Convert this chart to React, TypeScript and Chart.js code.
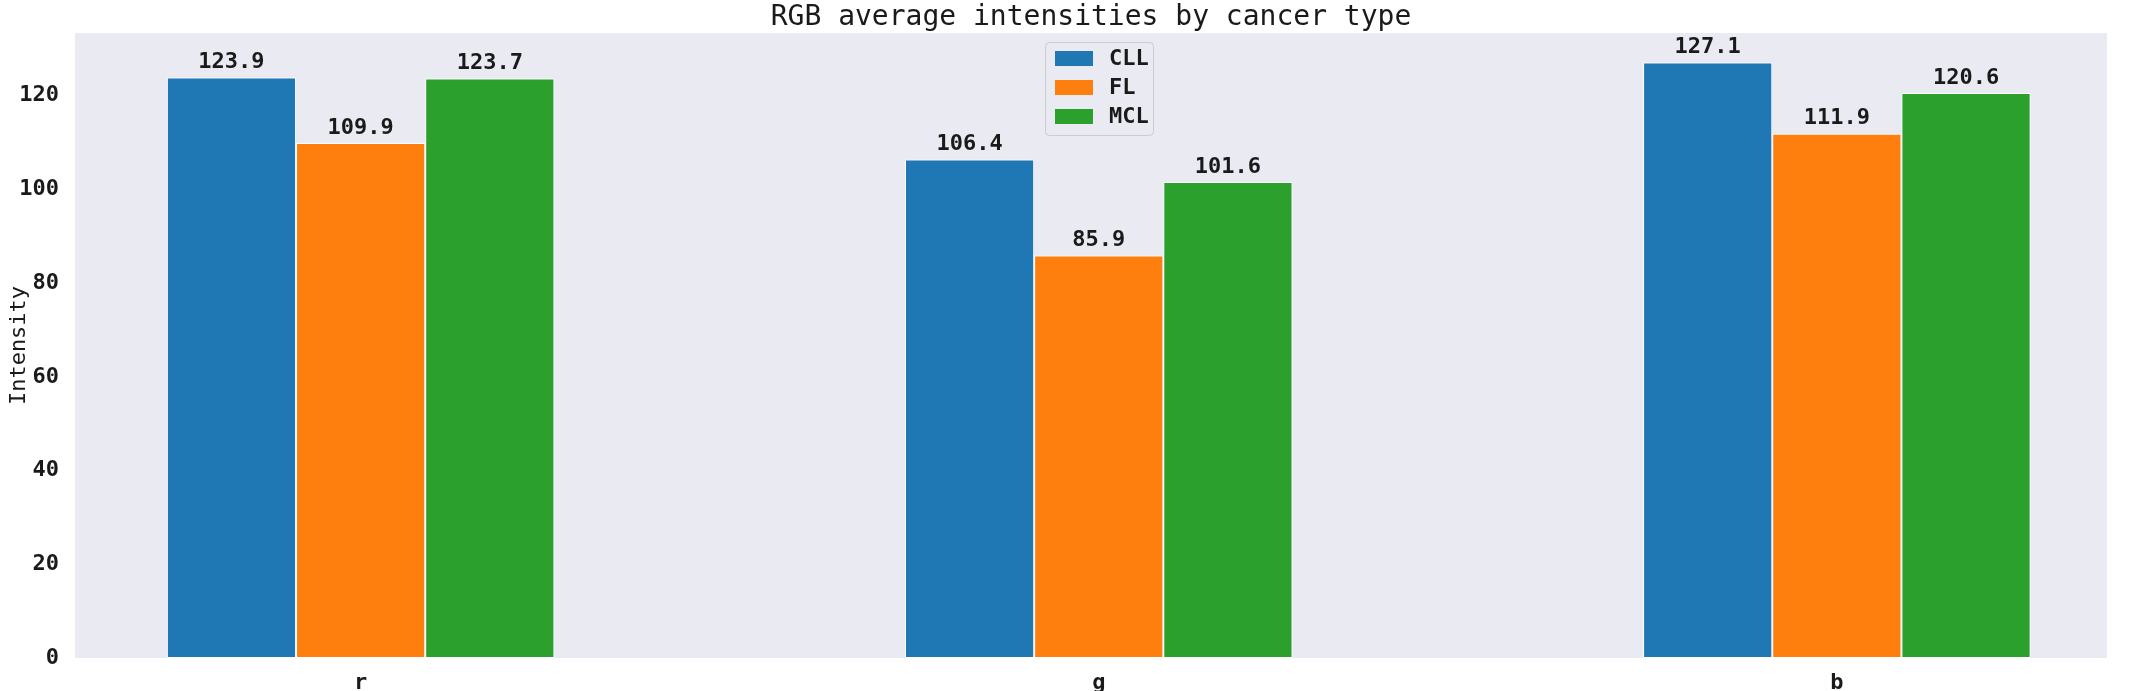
import { useEffect, useRef } from 'react'
import { Chart, registerables } from 'chart.js'

Chart.register(...registerables)

const categories = ['r', 'g', 'b']
const seriesNames = ['CLL', 'FL', 'MCL']
const cllValues = [123.9, 106.4, 127.1]
const flValues = [109.9, 85.9, 111.9]
const mclValues = [123.7, 101.6, 120.6]
const seriesColors = ['#1f77b4', '#ff7f0e', '#2ca02c']
const yTicks = [0, 20, 40, 60, 80, 100, 120]

const MONO = "'DejaVu Sans Mono', monospace"
const INK = '#1a1a1a'

export default function App() {
  const canvasRef = useRef<HTMLCanvasElement>(null)

  useEffect(() => {
    document.body.style.margin = '0'
    if (!canvasRef.current) return
    const series = [cllValues, flValues, mclValues]

    const extras = {
      id: 'extras',
      beforeDraw(chart: any) {
        const { ctx, chartArea: a } = chart
        ctx.save()
        ctx.fillStyle = '#eaeaf2'
        ctx.fillRect(a.left, a.top, a.right - a.left, a.bottom - a.top)
        ctx.restore()
      },
      afterDraw(chart: any) {
        const { ctx, chartArea: a } = chart
        ctx.save()
        // title
        ctx.fillStyle = INK
        ctx.font = `28px ${MONO}`
        ctx.textAlign = 'center'
        ctx.textBaseline = 'middle'
        ctx.fillText('RGB average intensities by cancer type', (a.left + a.right) / 2, 18)
        // value labels
        ctx.font = `bold 22px ${MONO}`
        ctx.textBaseline = 'bottom'
        chart.data.datasets.forEach((_: any, di: number) => {
          chart.getDatasetMeta(di).data.forEach((bar: any, i: number) => {
            ctx.fillText(series[di][i].toFixed(1), bar.x, bar.y - 4)
          })
        })
        // legend
        const lx = 1045, ly = 42, lw = 108, lh = 93
        ctx.fillStyle = 'rgba(234,234,242,0.85)'
        ctx.strokeStyle = '#cccccc'
        ctx.lineWidth = 1
        ctx.beginPath()
        ctx.roundRect(lx + 0.5, ly + 0.5, lw, lh, 4)
        ctx.fill()
        ctx.stroke()
        ctx.textAlign = 'left'
        ctx.textBaseline = 'middle'
        ctx.font = `bold 22px ${MONO}`
        seriesNames.forEach((name, i) => {
          const cy = ly + 16 + i * 29
          ctx.fillStyle = seriesColors[i]
          ctx.fillRect(lx + 10, cy - 7, 38, 15)
          ctx.fillStyle = INK
          ctx.fillText(name, lx + 64, cy + 1)
        })
        ctx.restore()
      },
    }

    const chart = new Chart(canvasRef.current, {
      type: 'bar',
      plugins: [extras],
      data: {
        datasets: series.map((vals, di) => ({
          label: seriesNames[di],
          data: vals.map((v, i) => ({ x: i, y: v })),
          backgroundColor: seriesColors[di],
          borderColor: '#ffffff',
          borderWidth: 1,
          borderSkipped: false,
          categoryPercentage: 0.525,
          barPercentage: 1,
        })),
      },
      options: {
        animation: false,
        responsive: false,
        layout: { padding: { top: 33, right: 24, left: 6, bottom: 0 } },
        plugins: { legend: { display: false }, tooltip: { enabled: false }, title: { display: false } },
        scales: {
          x: {
            type: 'linear',
            offset: false,
            min: -0.387,
            max: 2.366,
            grid: { display: false, offset: false },
            border: { display: false },
            afterBuildTicks: (s: any) => { s.ticks = categories.map((_, i) => ({ value: i })) },
            afterFit: (s: any) => { s.height = 33 },
            ticks: {
              color: INK,
              font: { family: MONO, size: 22, weight: 'bold' },
              callback: (v: any) => categories[v] ?? '',
              padding: 4,
            },
          },
          y: {
            min: 0,
            max: 133.4,
            grid: { display: false },
            border: { display: false },
            afterBuildTicks: (s: any) => { s.ticks = yTicks.map(v => ({ value: v })) },
            afterFit: (s: any) => { s.width = 69 },
            title: { display: true, text: 'Intensity', color: INK, font: { family: MONO, size: 22 }, padding: 0 },
            ticks: { color: INK, font: { family: MONO, size: 22, weight: 'bold' }, padding: 8 },
          },
        },
      },
    })
    return () => chart.destroy()
  }, [])

  return <canvas ref={canvasRef} width={2131} height={691} style={{ display: 'block' }} />
}
